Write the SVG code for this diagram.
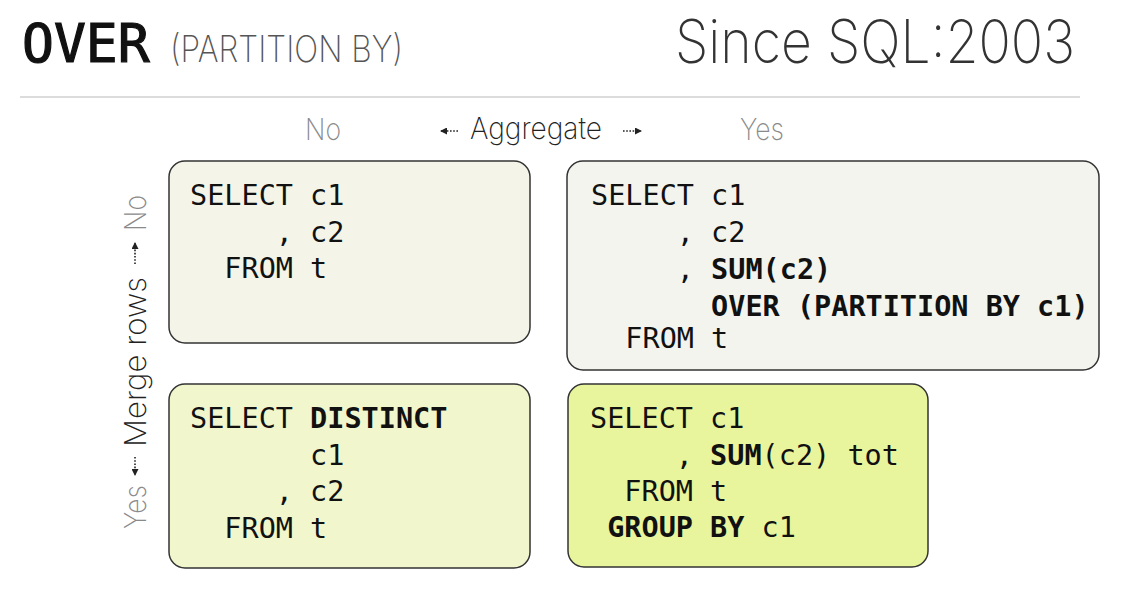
<svg xmlns="http://www.w3.org/2000/svg" width="1130" height="603" viewBox="0 0 1130 603">
<style>
.thin{font-family:Inter,Lato,"Open Sans","Liberation Sans",sans-serif;font-weight:200}
.gray{fill:#8a8a8a}
.dark{fill:#222}
.code{font-family:"DejaVu Sans Mono","Liberation Mono",monospace;font-size:28.5px;fill:#111}
.b{font-weight:bold}
.box{stroke:#333;stroke-width:1.5}
.arr{stroke:#222;stroke-width:1.6;stroke-dasharray:1.6 1.6;fill:none}
</style>
<defs>
<marker id="ah" viewBox="0 0 7 7" refX="6" refY="3.5" markerWidth="7" markerHeight="7" markerUnits="userSpaceOnUse" orient="auto">
<path d="M0,0 L7,3.5 L0,7 Z" fill="#222"/>
</marker>
</defs>
<rect width="1130" height="603" fill="#fff"/>

<g id="title">
<text x="22" y="62" font-family="DejaVu Sans Mono,Liberation Mono,monospace" font-size="53" fill="#111" stroke="#111" stroke-width="1.2">OVER</text>
<text class="thin" x="170" y="62" font-size="37" fill="#555" textLength="233" lengthAdjust="spacingAndGlyphs">(PARTITION BY)</text>
<text class="thin" x="675" y="63" font-size="60" fill="#333" textLength="400" lengthAdjust="spacingAndGlyphs">Since SQL:2003</text>
<line x1="20" y1="97" x2="1080" y2="97" stroke="#d0d0d0" stroke-width="1.5"/>
</g>

<g id="axis-labels">
<text class="thin gray" x="305" y="140" font-size="30" textLength="36" lengthAdjust="spacingAndGlyphs">No</text>
<text class="thin dark" x="470" y="139" font-size="30" textLength="132" lengthAdjust="spacingAndGlyphs">Aggregate</text>
<text class="thin gray" x="740" y="140" font-size="30" textLength="44" lengthAdjust="spacingAndGlyphs">Yes</text>
<text class="thin dark" transform="translate(146,362) rotate(-90)" text-anchor="middle" font-size="30" textLength="170" lengthAdjust="spacingAndGlyphs">Merge rows</text>
<text class="thin gray" transform="translate(146,213) rotate(-90)" text-anchor="middle" font-size="30" textLength="36" lengthAdjust="spacingAndGlyphs">No</text>
<text class="thin gray" transform="translate(146,507) rotate(-90)" text-anchor="middle" font-size="30" textLength="44" lengthAdjust="spacingAndGlyphs">Yes</text>
</g>

<g id="connectors">
<line class="arr" x1="458" y1="131" x2="441" y2="131" marker-end="url(#ah)"/>
<line class="arr" x1="623" y1="131" x2="641" y2="131" marker-end="url(#ah)"/>
<line class="arr" x1="135" y1="264" x2="135" y2="243" marker-end="url(#ah)"/>
<line class="arr" x1="135" y1="457" x2="135" y2="475" marker-end="url(#ah)"/>
</g>

<g id="box-plain">
<rect class="box" x="169" y="161" width="361" height="182" rx="16" fill="#f4f5e8"/>
<text class="code" xml:space="preserve" x="190" y="205">SELECT c1</text>
<text class="code" xml:space="preserve" x="190" y="242">     , c2</text>
<text class="code" xml:space="preserve" x="190" y="278">  FROM t</text>
</g>

<g id="box-window">
<rect class="box" x="567" y="161" width="532" height="209" rx="16" fill="#f4f4ee"/>
<text class="code" xml:space="preserve" x="591" y="205">SELECT c1</text>
<text class="code" xml:space="preserve" x="591" y="242">     , c2</text>
<text class="code" xml:space="preserve" x="591" y="279">     , <tspan class="b">SUM(c2)</tspan></text>
<text class="code b" xml:space="preserve" x="591" y="316">       OVER (PARTITION BY c1)</text>
<text class="code" xml:space="preserve" x="591" y="348">  FROM t</text>
</g>

<g id="box-distinct">
<rect class="box" x="169" y="384" width="361" height="184" rx="16" fill="#f1f6cc"/>
<text class="code" xml:space="preserve" x="190" y="428">SELECT <tspan class="b">DISTINCT</tspan></text>
<text class="code" xml:space="preserve" x="190" y="465">       c1</text>
<text class="code" xml:space="preserve" x="190" y="501">     , c2</text>
<text class="code" xml:space="preserve" x="190" y="538">  FROM t</text>
</g>

<g id="box-groupby">
<rect class="box" x="568" y="384" width="360" height="183" rx="16" fill="#e9f59c"/>
<text class="code" xml:space="preserve" x="590" y="428">SELECT c1</text>
<text class="code" xml:space="preserve" x="590" y="465">     , <tspan class="b">SUM</tspan>(c2) tot</text>
<text class="code" xml:space="preserve" x="590" y="501">  FROM t</text>
<text class="code" xml:space="preserve" x="590" y="537"> <tspan class="b">GROUP BY</tspan> c1</text>
</g>
</svg>
